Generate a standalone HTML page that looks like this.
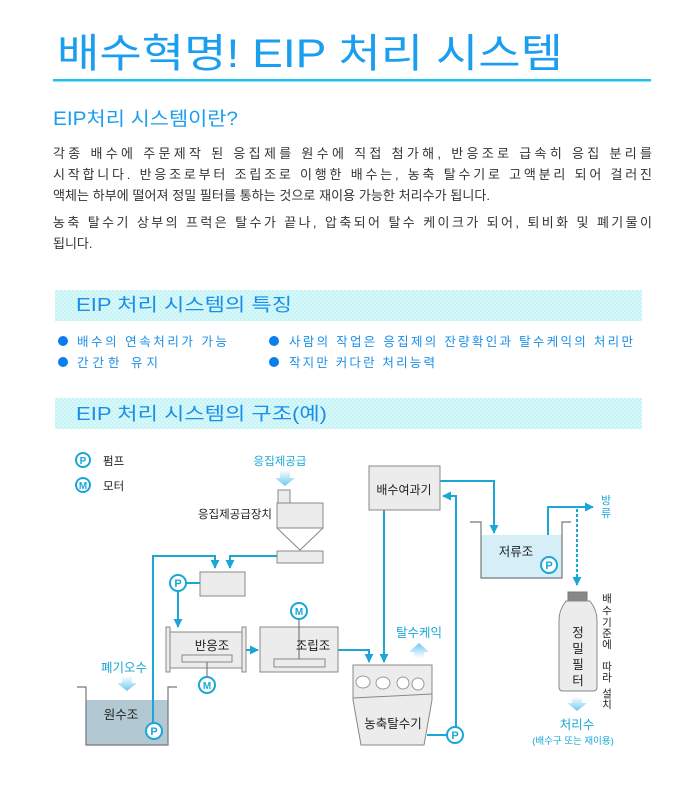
<!DOCTYPE html>
<html><head><meta charset="utf-8"><style>
html,body{margin:0;padding:0;background:#fff;}
svg{display:block;}
text{font-family:"Liberation Sans","Noto Sans CJK KR","NanumGothic",sans-serif;}
</style></head><body>
<svg width="700" height="800" viewBox="0 0 700 800" xmlns="http://www.w3.org/2000/svg">
<defs>
<pattern id="pt" width="4" height="4" patternUnits="userSpaceOnUse">
<rect width="4" height="4" fill="#c6f3f6"/><rect width="2" height="2" fill="#d9f8fa"/><rect x="2" y="2" width="2" height="2" fill="#d9f8fa"/>
</pattern>
<marker id="ar" viewBox="0 0 10 10" refX="9" refY="5" markerWidth="4.5" markerHeight="4.5" orient="auto"><path d="M0,0 L10,5 L0,10z" fill="#1aa7d8"/></marker>
<linearGradient id="fa" x1="0" y1="0" x2="0" y2="1"><stop offset="0" stop-color="#ffffff"/><stop offset="1" stop-color="#6cc8f0"/></linearGradient>
<linearGradient id="fu" x1="0" y1="1" x2="0" y2="0"><stop offset="0" stop-color="#ffffff"/><stop offset="1" stop-color="#6cc8f0"/></linearGradient>
</defs>
<text x="57" y="67" font-size="40" fill="#1a9ef0" textLength="506" lengthAdjust="spacingAndGlyphs">배수혁명! EIP 처리 시스템</text>
<rect x="53" y="79" width="598" height="2.5" fill="#1ec0f0"/>
<text x="53" y="125" font-size="19" fill="#1a9ef0" textLength="185" lengthAdjust="spacingAndGlyphs">EIP처리 시스템이란?</text>
<g font-size="13" fill="#333">
<text x="53" y="158" textLength="599" lengthAdjust="spacing">각종 배수에 주문제작 된 응집제를 원수에 직접 첨가해, 반응조로 급속히 응집 분리를</text>
<text x="53" y="179" textLength="599" lengthAdjust="spacing">시작합니다. 반응조로부터 조립조로 이행한 배수는, 농축 탈수기로 고액분리 되어 걸러진</text>
<text x="53" y="200" textLength="437" lengthAdjust="spacing">액체는 하부에 떨어져 정밀 필터를 통하는 것으로 재이용 가능한 처리수가 됩니다.</text>
<text x="53" y="227" textLength="599" lengthAdjust="spacing">농축 탈수기 상부의 프럭은 탈수가 끝나, 압축되어 탈수 케이크가 되어, 퇴비화 및 폐기물이</text>
<text x="53" y="248">됩니다.</text>
</g>
<rect x="55" y="290" width="587" height="31" fill="url(#pt)"/>
<text x="76" y="311" font-size="18" fill="#1a8fe8" textLength="216" lengthAdjust="spacingAndGlyphs">EIP 처리 시스템의 특징</text>
<g fill="#0a7ef0"><circle cx="63" cy="341" r="5"/><circle cx="63" cy="362" r="5"/><circle cx="274" cy="341" r="5"/><circle cx="274" cy="362" r="5"/></g>
<g font-size="12.5" fill="#1a8fe8">
<text x="77" y="346" textLength="150" lengthAdjust="spacing">배수의 연속처리가 가능</text>
<text x="77" y="367" textLength="81" lengthAdjust="spacing">간간한  유지</text>
<text x="289" y="346" textLength="344" lengthAdjust="spacing">사람의 작업은 응집제의 잔량확인과 탈수케익의 처리만</text>
<text x="289" y="367" textLength="146" lengthAdjust="spacing">작지만 커다란 처리능력</text>
</g>
<rect x="55" y="398" width="587" height="31" fill="url(#pt)"/>
<text x="76" y="420" font-size="18" fill="#1a8fe8" textLength="251" lengthAdjust="spacingAndGlyphs">EIP 처리 시스템의 구조(예)</text>

<!-- diagram -->
<g font-size="11.5" fill="#222">
<!-- legend -->
<circle cx="83" cy="460" r="7" fill="#fff" stroke="#1aa7d8" stroke-width="2"/><text x="83" y="464" font-size="10" font-weight="bold" fill="#1aa7d8" text-anchor="middle">P</text>
<text x="103" y="465">펌프</text>
<circle cx="83" cy="485" r="7" fill="#fff" stroke="#1aa7d8" stroke-width="2"/><text x="83" y="489" font-size="10" font-weight="bold" fill="#1aa7d8" text-anchor="middle">M</text>
<text x="103" y="490">모터</text>

<text x="280" y="465" fill="#1aa7d8" text-anchor="middle">응집제공급</text>
<path d="M280,470 h10 v8 h5 l-10,8 l-10,-8 h5z" fill="url(#fa)"/>
<!-- hopper -->
<g fill="#ececec" stroke="#888" stroke-width="1">
<rect x="278" y="490" width="12" height="13"/>
<rect x="277" y="503" width="46" height="25"/>
<path d="M277,528 L300,550 L323,528" fill="none"/>
<rect x="277" y="551" width="46" height="12"/>
<rect x="200" y="572" width="45" height="24"/>
</g>
<text x="272" y="518" text-anchor="end">응집제공급장치</text>

<g fill="none" stroke="#1aa7d8" stroke-width="2">
<path d="M153,735 V556 H215 V568" marker-end="url(#ar)"/>
<path d="M277,556 H230 V568" marker-end="url(#ar)"/>
<path d="M186,583 H200"/>
<path d="M178,591 V627" marker-end="url(#ar)"/>
<path d="M246,650 H258" marker-end="url(#ar)"/>
<path d="M338,650 H369 V662" marker-end="url(#ar)"/>
<path d="M384,510 V662" marker-end="url(#ar)"/>
<path d="M440,481 H494 V533" marker-end="url(#ar)"/>
<path d="M427,735 H447"/>
<path d="M456,727 V496 H443" marker-end="url(#ar)"/>
<path d="M548,557 V507 H593" marker-end="url(#ar)"/>
<path d="M577,509 V585" stroke-dasharray="3,2" marker-end="url(#ar)"/>
</g>
<circle cx="178" cy="583" r="8" fill="#fff" stroke="#1aa7d8" stroke-width="2"/><text x="178" y="587" font-size="11" font-weight="bold" fill="#1aa7d8" text-anchor="middle">P</text>

<!-- reactor -->
<g fill="#ececec" stroke="#888">
<rect x="170" y="632" width="72" height="36"/>
<rect x="166" y="627" width="4" height="45"/>
<rect x="242" y="627" width="4" height="45"/>
<rect x="182" y="655" width="50" height="7"/>
<rect x="260" y="627" width="78" height="45"/>
<rect x="274" y="659" width="51" height="8"/>
</g>
<path d="M207,662 V677 M299,619 V659" stroke="#666" stroke-width="1"/>
<text x="212" y="650" text-anchor="middle" font-size="12.5">반응조</text>
<text x="313" y="650" text-anchor="middle" font-size="12.5">조립조</text>
<circle cx="207" cy="685" r="8" fill="#fff" stroke="#1aa7d8" stroke-width="2"/><text x="207" y="689" font-size="10" font-weight="bold" fill="#1aa7d8" text-anchor="middle">M</text>
<circle cx="299" cy="611" r="8" fill="#fff" stroke="#1aa7d8" stroke-width="2"/><text x="299" y="615" font-size="10" font-weight="bold" fill="#1aa7d8" text-anchor="middle">M</text>

<!-- 원수조 -->
<text x="124" y="672" fill="#1aa7d8" text-anchor="middle" font-size="12.5">폐기오수</text>
<path d="M122,676 h10 v7 h5 l-10,8 l-10,-8 h5z" fill="url(#fa)"/>
<rect x="86" y="700" width="82" height="45" fill="#b2c8d2"/>
<path d="M77,687 H86 V745 H168 V687 H177" fill="none" stroke="#777" stroke-width="1.2"/>
<path d="M153,700 V723" stroke="#1aa7d8" stroke-width="2"/>
<text x="121" y="719" text-anchor="middle" font-size="12.5">원수조</text>
<circle cx="154" cy="731" r="8" fill="#fff" stroke="#1aa7d8" stroke-width="2"/><text x="154" y="735" font-size="11" font-weight="bold" fill="#1aa7d8" text-anchor="middle">P</text>

<!-- 배수여과기 -->
<rect x="369" y="466" width="71" height="44" fill="#ececec" stroke="#888"/>
<text x="404" y="494" text-anchor="middle" font-size="12">배수여과기</text>

<!-- dehydrator -->
<text x="419" y="637" fill="#1aa7d8" text-anchor="middle" font-size="12.5">탈수케익</text>
<path d="M414,658 v-6 h-5 l10,-9 l10,9 h-5 v6z" fill="url(#fu)"/>
<path d="M353,665 H432 V700 L424,745 H361 L353,700Z" fill="#ececec" stroke="#888"/>
<path d="M353,698 L432,694" stroke="#888"/>
<g fill="#fff" stroke="#999"><ellipse cx="363" cy="682" rx="7" ry="6"/><ellipse cx="383" cy="683" rx="7" ry="6"/><ellipse cx="403" cy="683" rx="6" ry="6"/><ellipse cx="418" cy="684" rx="6" ry="6"/></g>
<text x="393" y="728" text-anchor="middle" font-size="12.5">농축탈수기</text>
<circle cx="455" cy="735" r="8" fill="#fff" stroke="#1aa7d8" stroke-width="2"/><text x="455" y="739" font-size="11" font-weight="bold" fill="#1aa7d8" text-anchor="middle">P</text>

<!-- 저류조 -->
<rect x="481" y="535" width="81" height="43" fill="#d6eef8"/>
<path d="M470,522 H481 V578 H562 V522 H571" fill="none" stroke="#777" stroke-width="1.2"/>
<text x="516" y="556" text-anchor="middle" font-size="12.5">저류조</text>
<circle cx="549" cy="565" r="8" fill="#fff" stroke="#1aa7d8" stroke-width="2"/><text x="549" y="569" font-size="11" font-weight="bold" fill="#1aa7d8" text-anchor="middle">P</text>
<text x="606" y="504" fill="#1aa7d8" text-anchor="middle" font-size="11">방</text>
<text x="606" y="517" fill="#1aa7d8" text-anchor="middle" font-size="11">류</text>

<!-- filter -->
<rect x="568" y="592" width="19" height="9" fill="#888" stroke="#777"/>
<path d="M566,601 H590 Q597,610 597,620 V687 Q597,691 593,691 H563 Q559,691 559,687 V620 Q559,610 566,601Z" fill="#ececec" stroke="#888"/>
<g text-anchor="middle" font-size="12.5"><text x="578" y="637">정</text><text x="578" y="653">밀</text><text x="578" y="669">필</text><text x="578" y="685">터</text></g>
<g text-anchor="middle" font-size="10.5"><text x="607" y="602">배</text><text x="607" y="614">수</text><text x="607" y="626">기</text><text x="607" y="637">준</text><text x="607" y="648">에</text><text x="607" y="670">따</text><text x="607" y="681">라</text><text x="607" y="697">설</text><text x="607" y="708">치</text></g>
<path d="M572,697 h10 v6 h5 l-10,8 l-10,-8 h5z" fill="url(#fa)"/>
<text x="577" y="729" fill="#1aa7d8" text-anchor="middle" font-size="12.5">처리수</text>
<text x="573" y="744" fill="#1aa7d8" text-anchor="middle" font-size="9.5">(배수구 또는 재이용)</text>
</g>
</svg>
</body></html>
